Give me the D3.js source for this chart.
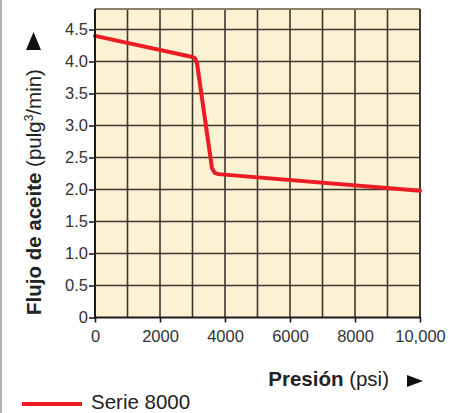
<!DOCTYPE html>
<html><head><meta charset="utf-8">
<script src="https://cdn.jsdelivr.net/npm/d3@7"></script>
<style>body{margin:0;background:#fff}text{font-family:"Liberation Sans",Arial,sans-serif}</style>
</head><body><svg id="c" width="456" height="413"></svg>
<script>
const pressure = [0, 3000, 3080, 3140, 3600, 3680, 3800, 10000];
const flow     = [4.40, 4.07, 4.05, 3.97, 2.33, 2.26, 2.24, 1.98];
const xTicks = [0, 2000, 4000, 6000, 8000, 10000];
const xTickLabels = ["0", "2000", "4000", "6000", "8000", "10,000"];
const yTicks = [0, 0.5, 1, 1.5, 2, 2.5, 3, 3.5, 4, 4.5];
const yTickLabels = ["0", "0.5", "1.0", "1.5", "2.0", "2.5", "3.0", "3.5", "4.0", "4.5"];
const seriesName = "Serie 8000";

const svg = d3.select("#c");
const L = 95, R = 420, T = 9, B = 317.5;
const x = d3.scaleLinear().domain([0, 10000]).range([L, R]);
const y = d3.scaleLinear().domain([0, 4.82]).range([B, T]);

svg.append("rect").attr("x",0).attr("y",0).attr("width",2).attr("height",413).attr("fill","#b3b3b3");
svg.append("rect").attr("x",L).attr("y",T).attr("width",R-L).attr("height",B-T).attr("fill","#fdf1d4");

const gridColor = "#3d372c";
const g = svg.append("g");
d3.range(1000, 10000, 1000).forEach(v => {
  g.append("line").attr("x1",x(v)).attr("x2",x(v)).attr("y1",T).attr("y2",B)
   .attr("stroke",gridColor).attr("stroke-width",1.6);
});
yTicks.slice(1).forEach(v => {
  g.append("line").attr("x1",L).attr("x2",R).attr("y1",y(v)).attr("y2",y(v))
   .attr("stroke",gridColor).attr("stroke-width",1.6);
});
// frame
svg.append("line").attr("x1",L).attr("x2",R).attr("y1",T).attr("y2",T).attr("stroke","#8a806c").attr("stroke-width",2);
svg.append("line").attr("x1",R).attr("x2",R).attr("y1",T).attr("y2",B).attr("stroke","#2a2620").attr("stroke-width",1.8);

// data line
const data = pressure.map((p,i)=>[p, flow[i]]);
svg.append("path").datum(data)
  .attr("d", d3.line().x(d=>x(d[0])).y(d=>y(d[1])).curve(d3.curveLinear))
  .attr("fill","none").attr("stroke","#ec1c24").attr("stroke-width",4)
  .attr("stroke-linejoin","round").attr("stroke-linecap","round");

// axes
const yAxis = d3.axisLeft(y).tickValues(yTicks).tickFormat((d,i)=>yTickLabels[i]).tickSize(6).tickPadding(1);
const ya = svg.append("g").attr("transform",`translate(${L},0)`).call(yAxis);
ya.select(".domain").attr("stroke","#1a1a1a").attr("stroke-width",2).attr("d",`M0,${T}V${B+1}`);
ya.selectAll(".tick line").attr("stroke","#1a1a1a").attr("stroke-width",1.6);
ya.selectAll("text").attr("font-size",16.5).attr("fill","#333").style("font-family","Liberation Sans, Arial, sans-serif");

const xAxis = d3.axisBottom(x).tickValues(xTicks).tickFormat((d,i)=>xTickLabels[i]).tickSize(5).tickPadding(8);
const xa = svg.append("g").attr("transform",`translate(0,${B})`).call(xAxis);
xa.select(".domain").attr("stroke","#1a1a1a").attr("stroke-width",2).attr("d",`M${L-1},0H${R+1}`);
xa.selectAll(".tick line").attr("stroke","#1a1a1a").attr("stroke-width",1.6);
xa.selectAll("text").attr("font-size",16.5).attr("fill","#333").style("font-family","Liberation Sans, Arial, sans-serif");

// y title
const yt = svg.append("text").attr("transform","translate(41,315) rotate(-90)").attr("font-size",20.5).attr("fill","#222");
yt.append("tspan").attr("font-weight","bold").text("Flujo de aceite");
yt.append("tspan").text(" (pulg");
yt.append("tspan").attr("font-size",12).attr("dy",-8).text("3");
yt.append("tspan").attr("dy",8).text("/min)");
svg.append("path").attr("d","M26,50L41,50L33.5,32Z").attr("fill","#111");

// x title
const xt = svg.append("text").attr("x",389).attr("y",386).attr("text-anchor","end").attr("font-size",20.5).attr("fill","#222");
xt.append("tspan").attr("font-weight","bold").text("Presión");
xt.append("tspan").text(" (psi)");
svg.append("path").attr("d","M407,375L407,387L423,381Z").attr("fill","#111");

// legend
svg.append("line").attr("x1",22).attr("x2",82).attr("y1",404).attr("y2",404).attr("stroke","#ec1c24").attr("stroke-width",4);
svg.append("text").attr("x",91).attr("y",409).attr("font-size",20.5).attr("fill","#222").text(seriesName);
</script></body></html>
